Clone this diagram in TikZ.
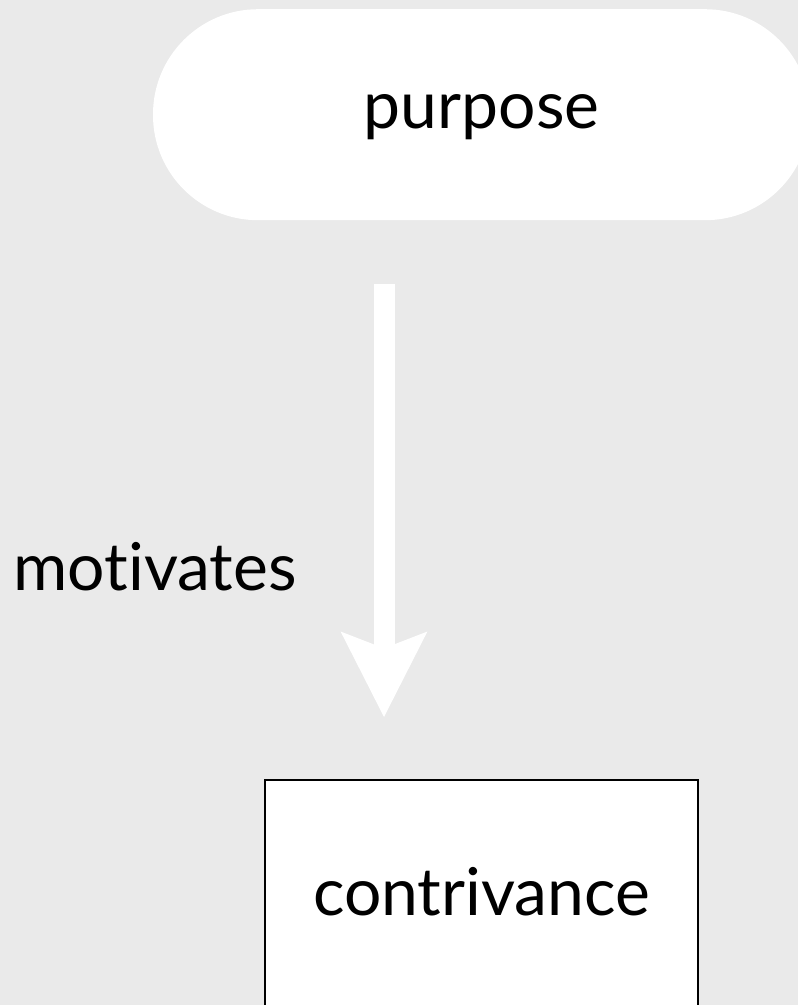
\documentclass[tikz,border=0pt]{standalone}
\usepackage{fontspec}
\setmainfont{Lato}[Ligatures=NoCommon]
\usepackage{xcolor}
\usetikzlibrary{positioning,arrows.meta}
\definecolor{fundo}{RGB}{234,234,234}

\begin{document}
\begin{tikzpicture}[x=1pt, y=1pt,
      rotulo/.style={font=\fontsize{66}{70}\selectfont, color=black, inner sep=0pt},
      proposito/.style={rotulo, fill=white, rounded corners=105pt,
        minimum width=657pt, text height=119pt, text depth=92pt},
      engenho/.style={rotulo, draw=black, line width=1.6pt, fill=white,
        minimum width=433pt, text height=135pt, text depth=120pt},
      seta/.style={-{Stealth[length=84pt, width=83pt, inset=15pt]},
        line width=21pt, color=white, shorten <=64pt, shorten >=62pt},
      nota/.style={rotulo, anchor=base east}]
    \fill[fundo] (0,0) rectangle (798,-1005);
    \useasboundingbox (0,0) rectangle (798,-1005);
    \node[proposito, anchor=north] (purpose) at (481.5,-9) {purpose};
    \node[engenho, below=559pt of purpose] (contrivance) {contrivance};
    \draw[seta] ([xshift=-97.5pt]purpose.south) --
      node[nota, pos=0.662, xshift=-77pt] (mot) {motivates}
      ([xshift=-97.5pt]contrivance.north);
  \end{tikzpicture}
\end{document}
